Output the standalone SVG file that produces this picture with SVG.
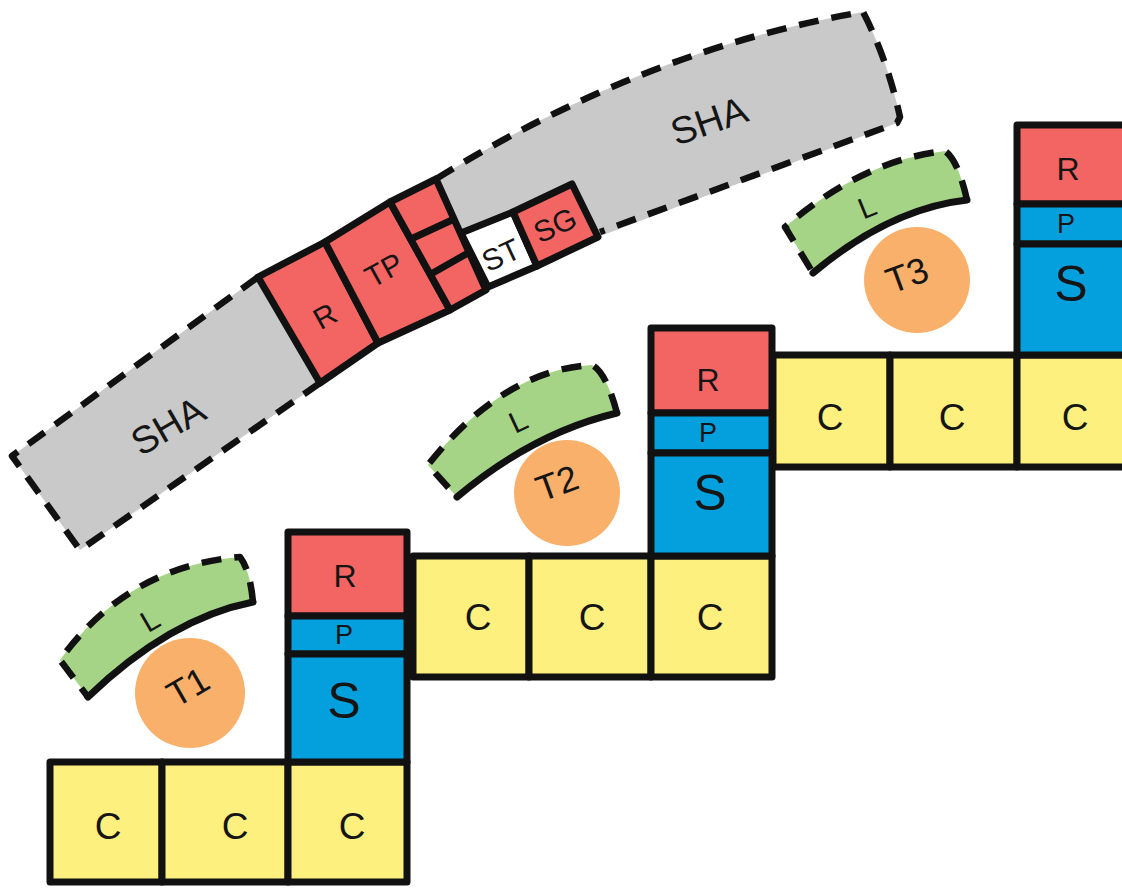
<svg xmlns="http://www.w3.org/2000/svg" width="1122" height="891" viewBox="0 0 1122 891">
<style>
.ln{stroke:#111;stroke-width:7;stroke-linejoin:round}
.dash{fill:none;stroke:#111;stroke-width:6.5;stroke-dasharray:20 13;stroke-linejoin:round}
.solid{fill:none;stroke:#111;stroke-width:7;stroke-linecap:round}
.y{fill:#FDF07E}
.r{fill:#F26563}
.b{fill:#04A0DD}
.g{fill:#A6D487}
.o{fill:#F8B06A}
.gr{fill:#C9C9C9}
.w{fill:#FFFFFF}
text{font-family:"Liberation Sans",Arial,sans-serif;fill:#151515;text-anchor:middle;dominant-baseline:central}
.c{font-size:37px}
.s{font-size:50px}
.rr{font-size:32px}
.p{font-size:27px}
.t{font-size:36px}
.sm{font-size:30px}
.sha{font-size:38px}
</style>
<rect width="1122" height="891" fill="#fff"/>

<g id="sha">
  <path class="gr" d="M12,456 L258,277 L436,179 Q646.5,49 863,12 Q887,58 900,117 L897,123 L598,237 L537,266 L488,287 L450,310 L378,343 L320,383 L80,550 Z"/>
  <path class="dash" d="M258,277 L12,456 L80,550 L320,383"/>
  <path class="dash" d="M436,179 Q646.5,49 863,12 Q887,58 900,117 L897,123 L600,232"/>
  <text class="sha" transform="translate(168,426) rotate(-30)">SHA</text>
  <text class="sha" transform="translate(709,121) rotate(-19)">SHA</text>
</g>

<g id="lab-block">
  <polygon class="r ln" points="258,277 325,242 378,343 320,383"/>
  <polygon class="r ln" points="325,242 390,202 450,310 378,343"/>
  <polygon class="r ln" points="390,202 436,179 486,290 450,310"/>
  <line class="ln" x1="411" y1="239" x2="452" y2="220"/>
  <line class="ln" x1="431" y1="274" x2="468" y2="253"/>
  <text class="sm" transform="translate(325,316) rotate(-29)">R</text>
  <text class="sm" transform="translate(384,270) rotate(-29)">TP</text>
</g>

<g id="st">
  <polygon class="w ln" points="461,233 513,212 537,266 488,287"/>
  <text class="sm" transform="translate(501,255) rotate(-25)">ST</text>
</g>
<g id="sg">
  <polygon class="r ln" points="513,212 572,184 598,237 537,266"/>
  <text class="sm" transform="translate(555,225) rotate(-25)">SG</text>
</g>

<g id="unit1">
  <rect class="y ln" x="50" y="762" width="112" height="120"/>
  <rect class="y ln" x="162" y="762" width="126" height="120"/>
  <rect class="y ln" x="288" y="762" width="119" height="120"/>
  <rect class="r ln" x="288" y="532" width="119" height="84"/>
  <rect class="b ln" x="288" y="616" width="119" height="38"/>
  <rect class="b ln" x="288" y="654" width="119" height="108"/>
  <text class="c" x="108" y="826">C</text>
  <text class="c" x="235" y="826">C</text>
  <text class="c" x="352" y="826">C</text>
  <text class="rr" x="345" y="576">R</text>
  <text class="p" x="344" y="635">P</text>
  <text class="s" x="344" y="701">S</text>
</g>

<g id="unit2">
  <rect class="y ln" x="413" y="556" width="116" height="121"/>
  <rect class="y ln" x="529" y="556" width="122" height="121"/>
  <rect class="y ln" x="651" y="556" width="121" height="121"/>
  <rect class="r ln" x="651" y="328" width="121" height="85"/>
  <rect class="b ln" x="651" y="413" width="121" height="40"/>
  <rect class="b ln" x="651" y="453" width="121" height="103"/>
  <text class="c" x="478" y="617">C</text>
  <text class="c" x="592" y="617">C</text>
  <text class="c" x="710" y="617">C</text>
  <text class="rr" x="708" y="380">R</text>
  <text class="p" x="708" y="433">P</text>
  <text class="s" x="710" y="493">S</text>
</g>

<g id="unit3">
  <rect class="y ln" x="773" y="355" width="117" height="112"/>
  <rect class="y ln" x="890" y="355" width="127" height="112"/>
  <rect class="y ln" x="1017" y="355" width="118" height="112"/>
  <rect class="r ln" x="1017" y="125" width="118" height="79"/>
  <rect class="b ln" x="1017" y="204" width="118" height="40"/>
  <rect class="b ln" x="1017" y="244" width="118" height="111"/>
  <text class="c" x="830" y="417">C</text>
  <text class="c" x="952" y="417">C</text>
  <text class="c" x="1075" y="417">C</text>
  <text class="rr" x="1068" y="169">R</text>
  <text class="p" x="1066" y="224">P</text>
  <text class="s" x="1071" y="284">S</text>
</g>

<g id="l1">
  <path class="g" d="M60,660 Q128,566 240,557 Q250,570 253,602 Q169.5,618.5 88,697 Z"/>
  <path class="dash" d="M253,602 Q250,570 240,557 Q128,566 60,660 L88,697"/>
  <path class="solid" d="M253,602 Q169.5,618.5 88,697"/>
  <text class="sm" transform="translate(150,620) rotate(-30)">L</text>
</g>
<g id="t1">
  <circle class="o" cx="190" cy="693" r="55"/>
  <text class="t" transform="translate(188,687) rotate(-30)">T1</text>
</g>

<g id="l2">
  <path class="g" d="M428,465 Q503,370 592,365 Q606,372 617,413 Q533,433 457,497 Z"/>
  <path class="dash" d="M617,413 Q606,372 592,365 Q503,370 428,465 L457,497"/>
  <path class="solid" d="M617,413 Q533,433 457,497"/>
  <text class="sm" transform="translate(518,421) rotate(-25)">L</text>
</g>
<g id="t2">
  <circle class="o" cx="567" cy="493" r="53"/>
  <text class="t" transform="translate(557,483) rotate(-20)">T2</text>
</g>

<g id="l3">
  <path class="g" d="M785,227 Q863,160 945,151 Q958,160 967,200 Q890,208.5 813,273 Z"/>
  <path class="dash" d="M967,200 Q958,160 945,151 Q863,160 785,227 L813,273"/>
  <path class="solid" d="M967,200 Q890,208.5 813,273"/>
  <text class="sm" transform="translate(867,207) rotate(-22)">L</text>
</g>
<g id="t3">
  <circle class="o" cx="917" cy="280" r="53"/>
  <text class="t" transform="translate(907,275) rotate(-20)">T3</text>
</g>

<g id="connectors"></g>
</svg>
